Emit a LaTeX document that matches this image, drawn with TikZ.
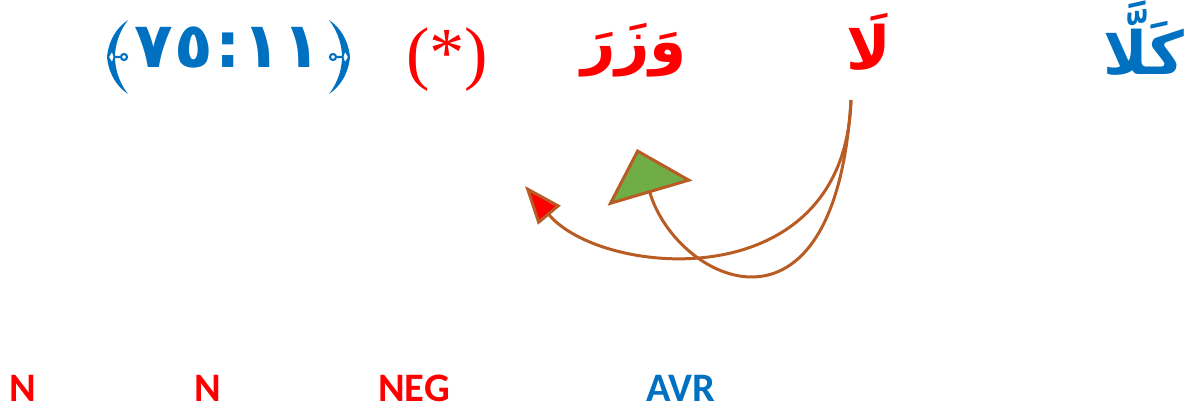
\documentclass[tikz,border=0pt]{standalone}
\usepackage{fontspec}
\usetikzlibrary{arrows.meta}
\setmainfont{Liberation Serif}
\newfontfamily\arabicfont[Script=Arabic]{DejaVu Sans}
\newfontfamily\labelfont{Carlito}
\TeXXeTstate=1
\definecolor{ayahblue}{RGB}{0,112,192}
\definecolor{wordred}{RGB}{255,0,0}
\definecolor{linkbrown}{RGB}{184,92,36}
\definecolor{headgreen}{RGB}{112,173,71}

\begin{document}
\begin{tikzpicture}[x=0.01cm,y=-0.01cm,
    word/.style={inner sep=0pt,font=\arabicfont\bfseries\fontsize{17}{20}\selectfont},
    tag/.style={inner sep=0pt,anchor=base,font=\labelfont\bfseries\fontsize{11.5}{14}\selectfont},
    link/.style={linkbrown,line width=0.85pt},
    ornate/.pic={
      \fill[even odd rule] (10,-37) .. controls (-6,-26) and (-10,-10) .. (-11,0)
          .. controls (-10,10) and (-6,26) .. (10,37)
          .. controls (0,24) and (-3,10) .. (-3,0)
          .. controls (-3,-10) and (0,-24) .. (10,-37) -- cycle
          (-9,0) -- (-6,-5) -- (-4.5,0) -- (-6,5) -- cycle;
      \draw[line width=0.6pt] (-3,0) -- (3,0) (6,0) circle[radius=3];
    }]
    \useasboundingbox (0,0) rectangle (1188,412);

    % Verse
    \node[word,ayahblue] (kalla) at (1144,38) {\beginR كَلَّا\endR};
    \node[word,wordred] (la) at (869,42) {\beginR لَا\endR};
    \node[word,wordred] (wazara) at (634,50) {\beginR وَزَرَ\endR};
    \node[inner sep=0pt,wordred,font=\fontsize{20}{24}\selectfont] (star) at (447,60) {(*)};
    \node[inner sep=0pt,ayahblue,font=\arabicfont\bfseries\fontsize{18}{20}\selectfont]
        (ayah) at (228,47) {٧\kern0.5pt٥\kern0.5pt:\kern0.5pt١\kern0.5pt١};
    \pic[ayahblue] at (118,57) {ornate};
    \pic[ayahblue,xscale=-1] at (339,57) {ornate};

    % Links
    \coordinate (laFoot) at (851,100);
    \coordinate (tipGreen) at (637,149);
    \coordinate (tipRed) at (525,186);
    \draw[link,-{Triangle[length=0.46cm,width=0.88cm,fill=headgreen]}]
        (laFoot) .. controls (835,360) and (676,281) .. (tipGreen);
    \draw[link,-{Triangle[length=0.38cm,width=0.29cm,fill=wordred]}]
        (laFoot) .. controls (845,300) and (601,277) .. (tipRed);

    % Tags
    \node[tag,wordred] (tagN) at (23,401) {N};
    \node[tag,wordred] (tagNb) at (208,401) {N};
    \node[tag,wordred] (tagNeg) at (414,401) {NEG};
    \node[tag,ayahblue] (tagAvr) at (681,401) {AVR};
\end{tikzpicture}
\end{document}
